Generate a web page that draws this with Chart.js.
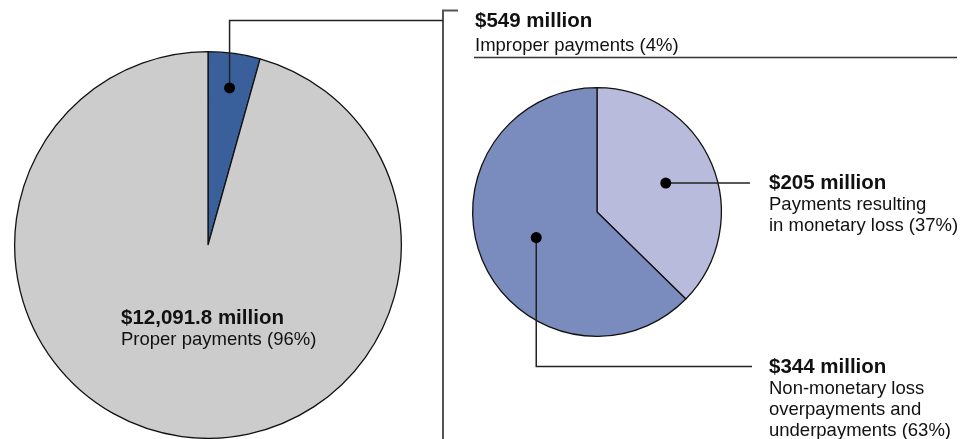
<!DOCTYPE html>
<html>
<head>
<meta charset="utf-8">
<script src="https://cdn.jsdelivr.net/npm/chart.js@4"></script>
<style>
  body { margin: 0; background: #fff; font-family: "Liberation Sans", Arial, sans-serif; color: #111; }
  #wrap { position: relative; width: 967px; height: 439px; overflow: hidden; }
  canvas { position: absolute; left: 0; top: 0; }
  .lbl { position: absolute; white-space: nowrap; font-size: 18.5px; line-height: 21px; }
  .lbl b { font-size: 20.5px; display: block; line-height: 22px; }
</style>
</head>
<body>
<div id="wrap">
  <canvas id="totalChart" width="967" height="439"></canvas>
  <canvas id="improperChart" width="967" height="439"></canvas>
  <div class="lbl" style="left:121px; top:306px;"><b>$12,091.8 million</b>Proper payments (96%)</div>
  <div class="lbl" style="left:475px; top:9px;"><b style="margin-bottom:3px">$549 million</b>Improper payments (4%)</div>
  <div class="lbl" style="left:769px; top:171px;"><b>$205 million</b>Payments resulting<br>in monetary loss (37%)</div>
  <div class="lbl" style="left:769px; top:355px;"><b>$344 million</b>Non-monetary loss<br>overpayments and<br>underpayments (63%)</div>
</div>
<script>
const totalLabels = ["Improper payments", "Proper payments"];
const totalValues = [549, 12091.8];
const improperLabels = ["Payments resulting in monetary loss", "Non-monetary loss overpayments and underpayments"];
const improperValues = [205, 344];

function dotAt(arc, frac) {
  const p = arc.getProps(["x", "y", "startAngle", "endAngle", "outerRadius"], true);
  const a = (p.startAngle + p.endAngle) / 2;
  return { x: p.x + Math.cos(a) * p.outerRadius * frac, y: p.y + Math.sin(a) * p.outerRadius * frac };
}

function drawDot(ctx, pt) {
  ctx.fillStyle = "#000";
  ctx.beginPath();
  ctx.arc(pt.x, pt.y, 5.5, 0, Math.PI * 2);
  ctx.fill();
}

function polyline(ctx, pts, color, width) {
  ctx.strokeStyle = color;
  ctx.lineWidth = width;
  ctx.beginPath();
  ctx.moveTo(pts[0][0], pts[0][1]);
  for (let i = 1; i < pts.length; i++) ctx.lineTo(pts[i][0], pts[i][1]);
  ctx.stroke();
}

const totalLines = {
  id: "totalLines",
  afterDraw(chart) {
    const ctx = chart.ctx;
    const d = dotAt(chart.getDatasetMeta(0).data[0], 0.82);
    ctx.save();
    polyline(ctx, [[443, 439], [443, 10.5], [458, 10.5]], "#555", 2);
    polyline(ctx, [[d.x, d.y], [d.x, 20.5], [443, 20.5]], "#222", 1.5);
    polyline(ctx, [[474, 57.5], [957, 57.5]], "#333", 1.5);
    drawDot(ctx, d);
    ctx.restore();
  }
};

const improperLines = {
  id: "improperLines",
  afterDraw(chart) {
    const ctx = chart.ctx;
    const meta = chart.getDatasetMeta(0);
    const d1 = dotAt(meta.data[0], 0.6);
    const d2 = dotAt(meta.data[1], 0.53);
    ctx.save();
    polyline(ctx, [[d1.x, d1.y], [750, d1.y]], "#222", 1.5);
    polyline(ctx, [[d2.x, d2.y], [d2.x, 366.5], [752, 366.5]], "#222", 1.5);
    drawDot(ctx, d1);
    drawDot(ctx, d2);
    ctx.restore();
  }
};

const baseOptions = (padding) => ({
  responsive: false,
  animation: false,
  layout: { padding: padding },
  plugins: { legend: { display: false }, tooltip: { enabled: false } }
});

new Chart(document.getElementById("totalChart"), {
  type: "pie",
  data: {
    labels: totalLabels,
    datasets: [{
      data: totalValues,
      backgroundColor: ["#3a609c", "#cccccc"],
      borderColor: "#111",
      borderWidth: 1.3
    }]
  },
  options: baseOptions({ left: 14, top: 51, right: 565, bottom: 0 }),
  plugins: [totalLines]
});

new Chart(document.getElementById("improperChart"), {
  type: "pie",
  data: {
    labels: improperLabels,
    datasets: [{
      data: improperValues,
      backgroundColor: ["#b8bbdb", "#7a8bbd"],
      borderColor: "#111",
      borderWidth: 1.3
    }]
  },
  options: baseOptions({ left: 472, top: 87, right: 245, bottom: 102 }),
  plugins: [improperLines]
});
</script>
</body>
</html>
